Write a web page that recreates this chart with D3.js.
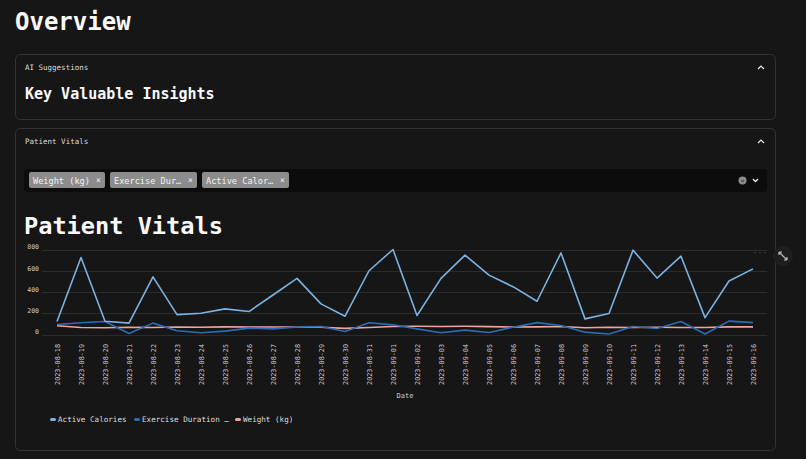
<!DOCTYPE html>
<html>
<head>
<meta charset="utf-8">
<script src="https://cdn.jsdelivr.net/npm/d3@7"></script>
<style>
  body { margin: 0; background: #161616; }
  svg { display: block; font-family: "DejaVu Sans Mono", "Liberation Mono", monospace; }
</style>
</head>
<body>
<script>
var dates = ["2023-08-18","2023-08-19","2023-08-20","2023-08-21","2023-08-22","2023-08-23","2023-08-24","2023-08-25","2023-08-26","2023-08-27",
  "2023-08-28","2023-08-29","2023-08-30","2023-08-31","2023-09-01","2023-09-02","2023-09-03","2023-09-04","2023-09-05","2023-09-06",
  "2023-09-07","2023-09-08","2023-09-09","2023-09-10","2023-09-11","2023-09-12","2023-09-13","2023-09-14","2023-09-15","2023-09-16"];
var activeCalories = [122, 725, 125, 107, 543, 187, 200, 241, 216, 372, 528, 288, 172, 600, 800, 179, 528, 747, 559, 450,
  313, 768, 147, 197, 794, 531, 737, 159, 503, 618];
var exerciseDuration = [94, 110, 122, 9, 107, 35, 16, 32, 60, 53, 72, 75, 28, 110, 91, 53, 16, 41, 19, 69,
  112, 84, 22, 4, 75, 56, 122, 4, 126, 112];
var weight = [82, 66, 64, 68, 66, 70, 68, 72, 70, 71, 70, 68, 58, 66, 75, 77, 76, 77, 74, 70,
  72, 76, 63, 68, 66, 68, 66, 66, 72, 72];
var yTicks = [0, 200, 400, 600, 800];
var seriesNames = ["Active Calories", "Exercise Duration …", "Weight (kg)"];
var tagLabels = ["Weight (kg)", "Exercise Dur…", "Active Calor…"];

var colors = ["#7bb2e2", "#2a6db5", "#f2a49c"];
var series = [activeCalories, exerciseDuration, weight];

var svg = d3.select("body").append("svg").attr("width", 806).attr("height", 459);

// page header
svg.append("text").attr("x", 15).attr("y", 30).attr("fill", "#fafafa")
  .attr("font-size", 24).attr("font-weight", "bold").text("Overview");

// panels
function panel(y, h, label) {
  svg.append("rect").attr("x", 15.5).attr("y", y + 0.5).attr("width", 760).attr("height", h)
    .attr("rx", 5).attr("fill", "none").attr("stroke", "#333");
  svg.append("text").attr("x", 25).attr("y", y + 15.5).attr("fill", "#ddd").attr("font-size", 7.5).text(label);
  svg.append("path").attr("d", "M758," + (y + 15) + "l3,-3l3,3").attr("fill", "none")
    .attr("stroke", "#eee").attr("stroke-width", 1.2);
}
panel(54, 65, "AI Suggestions");
svg.append("text").attr("x", 25).attr("y", 99).attr("fill", "#fafafa")
  .attr("font-size", 15).attr("font-weight", "bold").text("Key Valuable Insights");

panel(128, 322, "Patient Vitals");

// multiselect
svg.append("rect").attr("x", 24).attr("y", 169).attr("width", 743).attr("height", 23)
  .attr("rx", 4).attr("fill", "#0c0c0c");
var tagX = [29, 110, 202], tagW = [76, 87, 87];
tagLabels.forEach(function(t, i) {
  svg.append("rect").attr("x", tagX[i]).attr("y", 172).attr("width", tagW[i]).attr("height", 16)
    .attr("rx", 2).attr("fill", "#8c8c8c");
  svg.append("text").attr("x", tagX[i] + 4).attr("y", 183.5).attr("fill", "#f2f2f2")
    .attr("font-size", 8.6).text(t);
  svg.append("text").attr("x", tagX[i] + tagW[i] - 9).attr("y", 183).attr("fill", "#f2f2f2")
    .attr("font-size", 8).text("×");
});
svg.append("circle").attr("cx", 742.5).attr("cy", 180.5).attr("r", 4).attr("fill", "#8c8c8c");
svg.append("text").attr("x", 742.5).attr("y", 182.8).attr("text-anchor", "middle").attr("fill", "#222")
  .attr("font-size", 6).text("×");
svg.append("path").attr("d", "M753,179l2.5,2.5l2.5,-2.5").attr("fill", "none")
  .attr("stroke", "#eee").attr("stroke-width", 1.3);

svg.append("text").attr("x", 24).attr("y", 234).attr("fill", "#fafafa")
  .attr("font-size", 23.6).attr("font-weight", "bold").text("Patient Vitals");

// chart
var x = d3.scalePoint().domain(dates).range([57, 753]);
var y = d3.scaleLinear().domain([0, 800]).range([334.5, 249.5]);

var grid = svg.append("g");
grid.selectAll("line").data(yTicks).enter().append("line")
  .attr("x1", 42).attr("x2", 767)
  .attr("y1", function(d) { return Math.round(y(d)) + 0.5; })
  .attr("y2", function(d) { return Math.round(y(d)) + 0.5; })
  .attr("stroke", "#2b2b2b");

var yAxis = svg.append("g").attr("transform", "translate(39,0)")
  .call(d3.axisLeft(y).tickValues(yTicks).tickSize(0).tickPadding(0));
yAxis.select(".domain").remove();
yAxis.selectAll("text").attr("fill", "#ccc").attr("font-size", 6.5)
  .attr("font-family", "DejaVu Sans Mono, monospace").attr("dy", "-0.1em");

var xAxis = svg.append("g").attr("transform", "translate(0,340)")
  .call(d3.axisBottom(x).tickSize(0).tickPadding(0));
xAxis.select(".domain").remove();
xAxis.selectAll("text").attr("fill", "#ccc").attr("font-size", 6.8)
  .attr("font-family", "DejaVu Sans Mono, monospace")
  .attr("transform", "rotate(-90)").attr("text-anchor", "end")
  .attr("x", -4).attr("y", 0).attr("dy", "0.32em");

svg.append("text").attr("x", 405).attr("y", 398).attr("text-anchor", "middle")
  .attr("fill", "#ccc").attr("font-size", 7).text("Date");

var line = d3.line().x(function(d, i) { return x(dates[i]); }).y(function(d) { return y(d); });
[2, 1, 0].forEach(function(k) {
  svg.append("path").datum(series[k]).attr("d", line).attr("fill", "none")
    .attr("stroke", colors[k]).attr("stroke-width", 1.6).attr("stroke-linejoin", "round");
});

// legend
var legX = [50, 134, 235];
seriesNames.forEach(function(n, i) {
  svg.append("rect").attr("x", legX[i]).attr("y", 418).attr("width", 6).attr("height", 3)
    .attr("rx", 1.5).attr("fill", colors[i]);
  svg.append("text").attr("x", legX[i] + 8).attr("y", 422).attr("fill", "#ddd")
    .attr("font-size", 7.6).text(n);
});

// chart toolbar
svg.append("text").attr("x", 760).attr("y", 256).attr("text-anchor", "middle")
  .attr("fill", "#555").attr("font-size", 8).text("···");
svg.append("circle").attr("cx", 783).attr("cy", 256).attr("r", 10).attr("fill", "#1e1e1e");
svg.append("path").attr("d", "M779,252l8,8M779,252v3M779,252h3M787,260v-3M787,260h-3")
  .attr("fill", "none").attr("stroke", "#bbb").attr("stroke-width", 1.2);
</script>
</body>
</html>
